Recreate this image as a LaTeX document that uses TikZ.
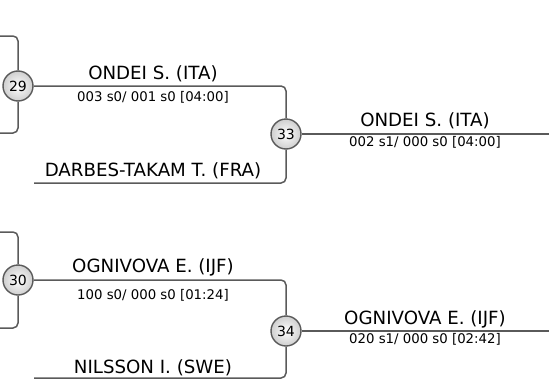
\documentclass[tikz,border=0pt]{standalone}
\usepackage{fontspec}
\setmainfont{DejaVu Sans}
\usetikzlibrary{positioning}
\definecolor{linegray}{HTML}{5A5A5A}
\tikzset{
  link/.style={draw=linegray,line width=1.5pt,rounded corners=5pt},
  match/.style={circle,draw=linegray,line width=1.4pt,inner sep=0pt,minimum size=30pt,
    inner color=white,outer color=black!19,font=\fontsize{14}{14}\selectfont},
  player/.style={anchor=base,inner sep=0pt,font=\fontsize{18.2}{18.2}\selectfont},
  score/.style={anchor=base,inner sep=0pt,font=\fontsize{13.3}{13.3}\selectfont},
}
\begin{document}
\begin{tikzpicture}[x=1pt,y=-1pt]
\useasboundingbox (0,0) rectangle (549,383);
% upper half
\coordinate (a29) at (0,36);
\coordinate (b29) at (0,133);
\coordinate (d33) at (34,183);
\coordinate (e33) at (549,134);
\node[match] (m29) at (18,86) {29};
\node[match] (m33) at (286,134) {33};
\draw[link] (a29) -| (m29);
\draw[link] (b29) -| (m29);
\draw[link] (m29) -| (m33);
\draw[link] (d33) -| (m33);
\draw[link] (m33) -- (e33);
\node[player] (p29) at (153,79) {ONDEI S. (ITA)};
\node[score] (s29) at (153,101) {003 s0/ 001 s0 [04:00]};
\node[player] (q33) at (153,176) {DARBES-TAKAM T. (FRA)};
\node[player] (p33) at (425,126.5) {ONDEI S. (ITA)};
\node[score] (s33) at (425,146) {002 s1/ 000 s0 [04:00]};
% lower half
\coordinate (a30) at (0,232);
\coordinate (b30) at (0,328);
\coordinate (d34) at (34,378);
\coordinate (e34) at (549,331);
\node[match] (m30) at (18,280) {30};
\node[match] (m34) at (286,331) {34};
\draw[link] (a30) -| (m30);
\draw[link] (b30) -| (m30);
\draw[link] (m30) -| (m34);
\draw[link] (d34) -| (m34);
\draw[link] (m34) -- (e34);
\node[player] (p30) at (153,272) {OGNIVOVA E. (IJF)};
\node[score] (s30) at (153,299) {100 s0/ 000 s0 [01:24]};
\node[player] (q34) at (153,373) {NILSSON I. (SWE)};
\node[player] (p34) at (425,324) {OGNIVOVA E. (IJF)};
\node[score] (s34) at (425,343) {020 s1/ 000 s0 [02:42]};
\end{tikzpicture}
\end{document}
